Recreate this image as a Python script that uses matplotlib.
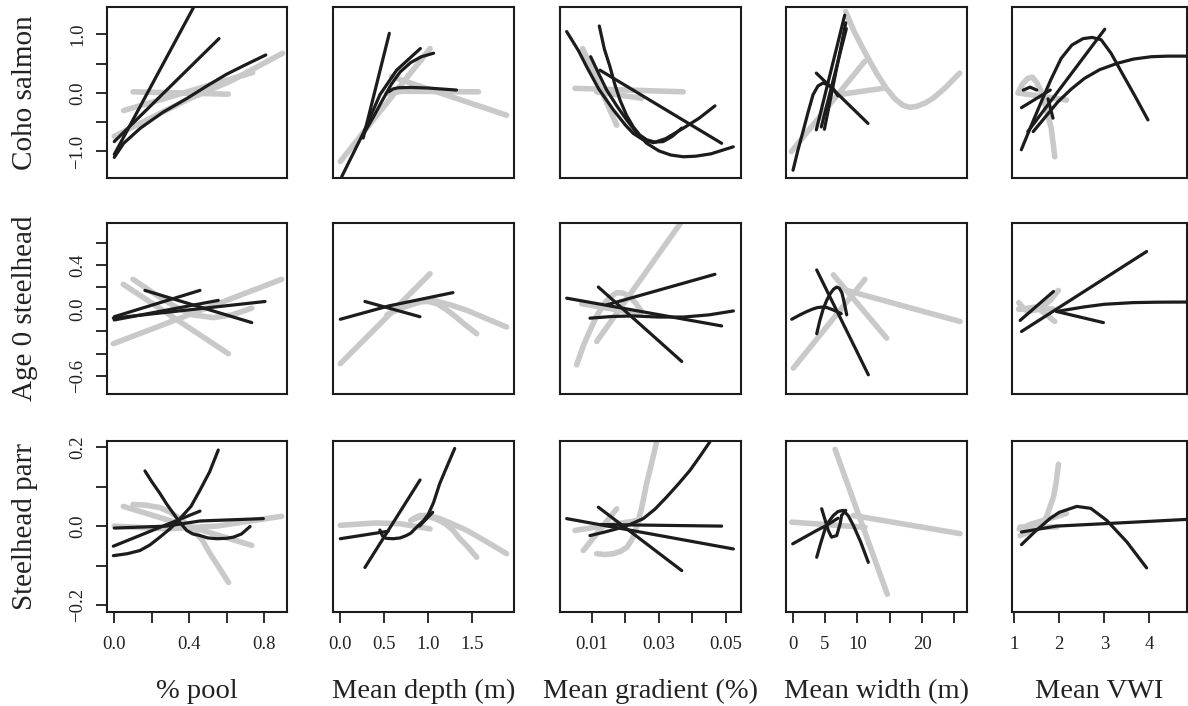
import matplotlib
matplotlib.use("Agg")
import matplotlib.pyplot as plt

# ---------------- data ----------------
row_labels = ["Coho salmon", "Age 0 steelhead", "Steelhead parr"]
col_labels = ["% pool", "Mean depth (m)", "Mean gradient (%)", "Mean width (m)", "Mean VWI"]

# x axis ticks / labels per column
x_ticks = [[0.0, 0.2, 0.4, 0.6, 0.8],
           [0.0, 0.5, 1.0, 1.5],
           [0.01, 0.02, 0.03, 0.04, 0.05],
           [0, 5, 10, 15, 20, 25],
           [1, 2, 3, 4]]
x_ticklabels = [["0.0", "", "0.4", "", "0.8"],
                ["0.0", "0.5", "1.0", "1.5"],
                ["0.01", "", "0.03", "", "0.05"],
                ["0", "5", "10", "", "20", ""],
                ["1", "2", "3", "4"]]
x_limits = [(-0.039, 0.9235), (-0.083, 1.974), (0.00045, 0.05448), (-1.036, 26.94), (0.949, 4.838)]

# y axis ticks / labels per row
y_ticks = [[-1.0, -0.5, 0.0, 0.5, 1.0],
           [-0.6, -0.4, -0.2, 0.0, 0.2, 0.4, 0.6],
           [-0.2, -0.1, 0.0, 0.1, 0.2]]
y_ticklabels = [["\u22121.0", "", "0.0", "", "1.0"],
                ["\u22120.6", "", "", "0.0", "", "0.4", ""],
                ["\u22120.2", "", "0.0", "", "0.2"]]
y_limits = [(-1.453, 1.47), (-0.763, 0.777), (-0.218, 0.216)]

# curves per panel: (shade, x values, y values); "k" = dark, "g" = light gray
coho_pool = [
    ("g", [0.10, 0.61], [0.02, -0.02]),
    ("g", [0.0, 0.2, 0.4, 0.62, 0.9], [-0.74, -0.42, -0.10, 0.20, 0.68]),
    ("g", [0.05, 0.74], [-0.30, 0.35]),
    ("k", [0.0, 0.43], [-1.05, 1.5]),
    ("k", [0.0, 0.56], [-0.83, 0.93]),
    ("k", [0.0, 0.05, 0.14, 0.26, 0.39, 0.50, 0.60, 0.70, 0.81],
          [-1.1, -0.86, -0.60, -0.33, -0.09, 0.13, 0.32, 0.48, 0.65]),
]
coho_depth = [
    ("k", [0.26, 0.557], [-0.77, 1.02]),
    ("k", [0.016, 0.26, 0.45, 0.64, 0.91], [-1.43, -0.69, -0.03, 0.39, 0.76]),
    ("k", [0.28, 0.38, 0.48, 0.58, 0.68, 0.80, 0.92, 1.06],
          [-0.66, -0.40, -0.12, 0.15, 0.36, 0.52, 0.62, 0.68]),
    ("k", [0.55, 0.60, 0.66, 0.80, 1.0, 1.32], [0.02, 0.07, 0.09, 0.095, 0.085, 0.05]),
    ("g", [0.0, 1.02], [-1.17, 0.76]),
    ("g", [0.53, 0.7, 1.57], [-0.01, 0.03, 0.02]),
    ("g", [0.58, 1.89], [0.28, -0.38]),
]
coho_gradient = [
    ("g", [0.00493, 0.03725], [0.08, 0.02]),
    ("g", [0.00722, 0.01737], [0.76, -0.55]),
    ("g", [0.0114, 0.02483], [0.02, -0.09]),
    ("k", [0.00244, 0.006, 0.0084, 0.012, 0.0164, 0.020, 0.0223, 0.025, 0.0283, 0.032, 0.0373, 0.042, 0.0467],
          [1.05, 0.72, 0.45, 0.07, -0.29, -0.55, -0.69, -0.79, -0.85, -0.78, -0.60, -0.43, -0.22]),
    ("k", [0.01218, 0.0137, 0.01537, 0.0168, 0.01836, 0.0203, 0.02233, 0.0243, 0.02633, 0.0288, 0.03128, 0.0340, 0.03678],
          [1.145, 0.75, 0.45, 0.15, -0.12, -0.38, -0.58, -0.72, -0.80, -0.84, -0.83, -0.74, -0.60]),
    ("k", [0.00961, 0.012, 0.01439, 0.0174, 0.02036, 0.0233, 0.02633, 0.030, 0.0335, 0.03725, 0.041, 0.0455, 0.05218],
          [0.62, 0.33, 0.05, -0.22, -0.46, -0.68, -0.86, -0.99, -1.06, -1.09, -1.08, -1.04, -0.92]),
    ("k", [0.01239, 0.04871], [0.39, -0.86]),
]
coho_width = [
    ("g", [8.19, 9.5, 11.38, 13.0, 14.47, 15.8, 17.05, 18.1, 19.11, 20.5, 21.69, 23.5, 25.8],
          [1.39, 1.05, 0.65, 0.33, 0.08, -0.10, -0.21, -0.245, -0.23, -0.17, -0.09, 0.08, 0.34]),
    ("g", [-0.2, 11.13], [-1.0, 0.54]),
    ("g", [7.0, 13.96], [-0.03, 0.08]),
    ("k", [3.65, 8.04], [-0.63, 1.33]),
    ("k", [4.42, 8.29], [-0.58, 1.10]),
    ("k", [4.9, 8.2], [-0.62, 1.2]),
    ("k", [0.05, 0.8, 1.59, 2.4, 3.14, 3.9, 4.68, 5.5, 6.23, 7.0],
          [-1.32, -0.98, -0.66, -0.32, -0.03, 0.12, 0.17, 0.14, 0.08, -0.05]),
    ("k", [3.65, 11.64], [0.34, -0.52]),
]
coho_vwi = [
    ("k", [1.156, 1.38, 1.6, 1.82, 2.04, 2.28, 2.53, 2.73, 2.93, 3.15, 3.38, 3.68, 3.97],
          [-0.97, -0.55, -0.15, 0.24, 0.59, 0.82, 0.93, 0.95, 0.91, 0.68, 0.36, -0.05, -0.46]),
    ("k", [1.30, 3.01], [-0.66, 1.09]),
    ("k", [1.42, 1.7, 1.97, 2.27, 2.56, 2.9, 3.30, 3.65, 4.04, 4.4, 4.82],
          [-0.66, -0.40, -0.15, 0.07, 0.25, 0.40, 0.51, 0.58, 0.62, 0.63, 0.63]),
    ("k", [1.16, 1.8], [-0.25, 0.05]),
    ("k", [1.75, 1.86], [-0.1, -0.43]),
    ("k", [1.2, 1.35, 1.5], [0.05, 0.1, 0.05]),
    ("g", [1.08, 1.18, 1.30, 1.4, 1.5, 1.6, 1.72, 1.82, 1.9], [0.0, 0.15, 0.25, 0.27, 0.18, 0.02, -0.3, -0.6, -1.09]),
    ("g", [1.1, 2.16], [0.0, -0.12]),
]
age0_pool = [
    ("g", [-0.005, 0.895], [-0.31, 0.27]),
    ("g", [0.048, 0.61], [0.225, -0.40]),
    ("g", [0.10, 0.18, 0.25, 0.33, 0.42, 0.53, 0.63, 0.735], [0.27, 0.18, 0.10, 0.02, -0.05, -0.075, -0.05, 0.01]),
    ("k", [-0.005, 0.806], [-0.08, 0.07]),
    ("k", [0.0, 0.556], [-0.096, 0.08]),
    ("k", [0.0, 0.458], [-0.067, 0.17]),
    ("k", [0.164, 0.735], [0.17, -0.12]),
]
age0_depth = [
    ("k", [0.0, 0.55, 1.28], [-0.09, 0.03, 0.15]),
    ("k", [0.28, 0.905], [0.07, -0.067]),
    ("g", [0.0, 1.02], [-0.49, 0.32]),
    ("g", [0.53, 0.66, 0.8, 0.93, 1.06, 1.25, 1.44, 1.65, 1.89], [-0.05, 0.0, 0.04, 0.07, 0.08, 0.04, -0.01, -0.08, -0.16]),
    ("g", [0.6, 0.75, 0.9, 1.0, 1.1, 1.2, 1.3, 1.42, 1.55], [0.02, 0.05, 0.07, 0.07, 0.05, 0.0, -0.06, -0.14, -0.22]),
]
age0_gradient = [
    ("g", [0.0114, 0.037], [-0.29, 0.8]),
    ("g", [0.00543, 0.0074, 0.0094, 0.0114, 0.01337, 0.0154, 0.01737, 0.0194, 0.02134, 0.0232, 0.02483],
          [-0.50, -0.33, -0.19, -0.06, 0.04, 0.11, 0.15, 0.145, 0.11, 0.05, -0.02]),
    ("g", [0.00693, 0.02433], [0.05, -0.04]),
    ("k", [0.00245, 0.0487], [0.10, -0.15]),
    ("k", [0.0094, 0.016, 0.0223, 0.030, 0.0373, 0.045, 0.0522], [-0.08, -0.065, -0.06, -0.07, -0.07, -0.05, -0.015]),
    ("k", [0.0144, 0.0467], [0.04, 0.315]),
    ("k", [0.0119, 0.0368], [0.20, -0.47]),
]
age0_width = [
    ("g", [0.1, 11.17], [-0.53, 0.27]),
    ("g", [6.28, 14.53], [0.31, -0.26]),
    ("g", [8.35, 25.86], [0.17, -0.11]),
    ("k", [3.71, 11.69], [0.354, -0.59]),
    ("k", [-0.15, 1.13, 2.2, 3.0, 3.8, 4.5, 5.3, 6.0, 6.8, 7.5], [-0.09, -0.05, -0.02, 0.0, 0.015, 0.02, 0.015, 0.0, -0.02, -0.04]),
    ("k", [3.71, 4.2, 4.7, 5.25, 5.8, 6.3, 6.8, 7.2, 7.6, 8.0, 8.35],
          [-0.22, -0.10, 0.0, 0.08, 0.14, 0.18, 0.20, 0.19, 0.15, 0.05, -0.05]),
]
age0_vwi = [
    ("k", [1.16, 3.94], [-0.20, 0.52]),
    ("k", [1.94, 2.53, 3.0, 3.64, 4.2, 4.83], [-0.02, 0.02, 0.045, 0.06, 0.064, 0.065]),
    ("k", [1.94, 2.98], [-0.02, -0.12]),
    ("k", [1.13, 1.87], [-0.1, 0.16]),
    ("g", [1.1, 1.2, 1.3, 1.55, 1.8, 1.98], [0.06, 0.01, -0.02, 0.0, 0.08, 0.17]),
    ("g", [1.1, 1.5, 1.9], [0.0, 0.02, -0.11]),
    ("g", [1.11, 1.87], [0.0, 0.0]),
]
parr_pool = [
    ("k", [0.164, 0.2, 0.244, 0.28, 0.316, 0.35, 0.387, 0.42, 0.458, 0.5, 0.548, 0.6, 0.637, 0.68, 0.726],
          [0.14, 0.113, 0.083, 0.056, 0.032, 0.01, -0.011, -0.02, -0.024, -0.03, -0.032, -0.031, -0.028, -0.02, -0.001]),
    ("k", [-0.005, 0.07, 0.137, 0.19, 0.244, 0.3, 0.351, 0.41, 0.458, 0.51, 0.556],
          [-0.075, -0.07, -0.062, -0.048, -0.028, -0.006, 0.019, 0.05, 0.091, 0.138, 0.193]),
    ("k", [-0.005, 0.458], [-0.051, 0.038]),
    ("k", [0.0, 0.28, 0.458, 0.797], [-0.005, 0.0, 0.013, 0.019]),
    ("g", [0.0, 0.28, 0.548, 0.895], [0.0, -0.007, 0.0, 0.025]),
    ("g", [0.048, 0.735], [0.05, -0.049]),
    ("g", [0.10, 0.17, 0.244, 0.3, 0.351, 0.39, 0.422, 0.47, 0.512, 0.56, 0.611],
          [0.055, 0.053, 0.047, 0.035, 0.019, 0.004, -0.011, -0.035, -0.07, -0.105, -0.143]),
]
parr_depth = [
    ("k", [0.28, 0.906], [-0.105, 0.117]),
    ("k", [0.45, 0.48, 0.52, 0.6, 0.68, 0.75, 0.8, 0.88, 0.95, 1.0, 1.06, 1.13, 1.2, 1.3],
          [-0.01, -0.025, -0.031, -0.032, -0.03, -0.024, -0.018, 0.0, 0.015, 0.03, 0.06, 0.108, 0.145, 0.197]),
    ("k", [0.0, 0.545], [-0.032, -0.013]),
    ("k", [0.9, 1.05], [0.0, 0.035]),
    ("g", [0.0, 0.4, 0.68, 1.02], [0.002, 0.008, 0.006, -0.007]),
    ("g", [0.83, 0.906, 1.0, 1.13, 1.28, 1.44, 1.65, 1.89], [0.019, 0.027, 0.027, 0.019, 0.005, -0.011, -0.038, -0.07]),
    ("g", [0.8, 0.9, 1.0, 1.1, 1.2, 1.28, 1.35, 1.45, 1.55], [0.015, 0.023, 0.025, 0.017, 0.005, -0.01, -0.03, -0.053, -0.079]),
]
parr_gradient = [
    ("g", [0.0074, 0.0174], [-0.062, 0.044]),
    ("g", [0.0114, 0.0139, 0.0164, 0.0185, 0.0204, 0.022, 0.0233, 0.0248, 0.0263, 0.0278, 0.0293],
          [-0.07, -0.072, -0.07, -0.064, -0.054, -0.033, -0.003, 0.045, 0.108, 0.16, 0.214]),
    ("g", [0.0049, 0.0243], [-0.011, 0.015]),
    ("k", [0.0094, 0.0134, 0.01737, 0.0213, 0.0253, 0.0288, 0.0323, 0.0358, 0.0393, 0.0423, 0.0452],
          [-0.024, -0.016, -0.007, 0.004, 0.019, 0.043, 0.074, 0.107, 0.142, 0.178, 0.214]),
    ("k", [0.00245, 0.0522], [0.019, -0.058]),
    ("k", [0.0124, 0.0487], [0.004, 0.0]),
    ("k", [0.0119, 0.0368], [0.048, -0.113]),
]
parr_width = [
    ("g", [6.54, 14.62], [0.195, -0.173]),
    ("g", [9.37, 25.86], [0.027, -0.019]),
    ("g", [-0.15, 11.17], [0.01, -0.003]),
    ("k", [0.0, 3.71, 5.26, 7.0], [-0.045, -0.011, 0.002, 0.02]),
    ("k", [3.71, 4.3, 4.99, 5.6, 6.28, 7.0, 7.82, 8.6, 9.37, 10.5, 11.69],
          [-0.079, -0.045, -0.008, 0.012, 0.027, 0.037, 0.04, 0.026, 0.002, -0.04, -0.092]),
    ("k", [4.48, 5.5, 6.0, 6.8, 7.3, 7.56, 8.2], [0.044, -0.011, -0.028, -0.024, 0.004, 0.027, 0.04]),
]
parr_vwi = [
    ("k", [1.16, 1.45, 1.79, 2.0, 2.39, 2.7, 3.05, 3.5, 3.94],
          [-0.047, -0.015, 0.019, 0.035, 0.05, 0.045, 0.015, -0.04, -0.106]),
    ("k", [1.16, 1.94, 2.98, 4.83], [-0.015, 0.0, 0.006, 0.017]),
    ("g", [1.13, 1.35, 1.57, 1.72, 1.87, 1.93, 1.98], [-0.024, -0.014, 0.0, 0.025, 0.074, 0.11, 0.157]),
    ("g", [1.11, 1.4, 2.16], [-0.007, 0.006, 0.032]),
    ("g", [1.13, 1.94], [-0.003, -0.003]),
]

panels = [[coho_pool, coho_depth, coho_gradient, coho_width, coho_vwi],
          [age0_pool, age0_depth, age0_gradient, age0_width, age0_vwi],
          [parr_pool, parr_depth, parr_gradient, parr_width, parr_vwi]]

# ---------------- drawing ----------------
plt.rcParams['font.family'] = ['Liberation Serif', 'DejaVu Serif']
W, H = 1188, 706
fig = plt.figure(figsize=(W / 100, H / 100), dpi=100)

col_left = [107, 333, 560, 786, 1012]
col_width = [180, 181, 181, 181, 175]
row_top = [7, 223, 441]
row_height = 171

styles = {"k": dict(color="#1c1c1c", lw=2.3, zorder=3),
          "g": dict(color="#c9c9c9", lw=4.0, zorder=2)}

for r in range(3):
    for c in range(5):
        l, w = col_left[c], col_width[c]
        t = row_top[r]
        ax = fig.add_axes([l / W, 1 - (t + row_height) / H, w / W, row_height / H])
        for shade, xs, ys in panels[r][c]:
            ax.plot(xs, ys, solid_capstyle="round", solid_joinstyle="round", **styles[shade])
        ax.set_xlim(*x_limits[c])
        ax.set_ylim(*y_limits[r])
        for sp in ax.spines.values():
            sp.set_linewidth(1.5)
            sp.set_color("#1c1c1c")
        ax.tick_params(direction="out", length=8, width=1.3, color="#1c1c1c",
                       labelsize=13.5, labelcolor="#222222")
        if r == 2:
            ax.set_xticks(x_ticks[c], x_ticklabels[c])
            ax.tick_params(axis="x", pad=9.5)
        else:
            ax.set_xticks([])
        if c == 0:
            ax.set_yticks(y_ticks[r], y_ticklabels[r])
            for lab in ax.get_yticklabels():
                lab.set_rotation(90)
                lab.set_va("center")
            ax.tick_params(axis="y", pad=7)
        else:
            ax.set_yticks([])

for r in range(3):
    yc = 1 - (row_top[r] + row_height / 2) / H
    fig.text(25 / W, yc, row_labels[r], rotation=90, ha="center", va="center",
             fontsize=21, color="#222222")

for c in range(5):
    xc = (col_left[c] + col_width[c] / 2) / W
    fig.text(xc, 1 - 698 / H, col_labels[c], ha="center", va="baseline",
             fontsize=20.5, color="#222222")

fig.savefig("out.png", dpi=100)
